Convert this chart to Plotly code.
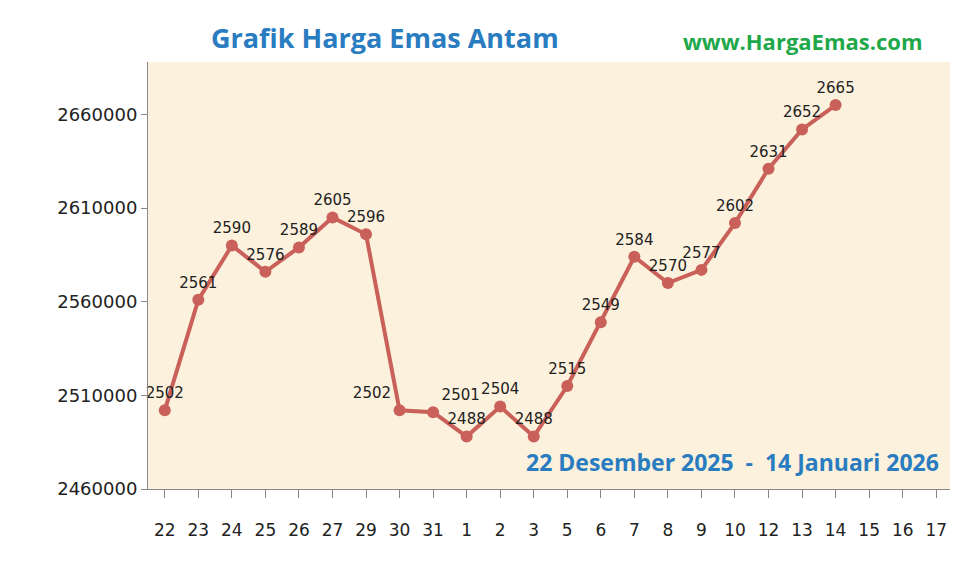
import plotly.graph_objects as go

categories = ["22","23","24","25","26","27","29","30","31","1","2","3","5","6","7","8","9","10","12","13","14","15","16","17"]
prices = [2502000,2561000,2590000,2576000,2589000,2605000,2596000,2502000,2501000,2488000,2504000,2488000,
          2515000,2549000,2584000,2570000,2577000,2602000,2631000,2652000,2665000]
labels = [str(v // 1000) for v in prices]
tickvals = [2460000, 2510000, 2560000, 2610000, 2660000]

positions = ["top center"] * len(prices)
positions[7] = "top left"
positions[8] = "top right"

fig = go.Figure(go.Scatter(
    x=categories[:len(prices)], y=prices, mode="lines+markers+text",
    text=labels, textposition=positions,
    textfont=dict(family="DejaVu Sans", size=15, color="#222"),
    line=dict(color="#c9615a", width=4),
    marker=dict(color="#c9615a", size=12),
    cliponaxis=False))

fig.update_layout(
    width=958, height=566, margin=dict(l=140, r=13, t=54, b=85, autoexpand=False),
    paper_bgcolor="white", plot_bgcolor="#fcf1dc", showlegend=False,
    xaxis=dict(type="category", categoryorder="array", categoryarray=categories,
               range=[-0.5, len(categories)-0.5], tickfont=dict(family="DejaVu Sans", size=17, color="#222"),
               ticklabelstandoff=18,
               showgrid=False, showline=True, linecolor="#888", ticks="outside", ticklen=8, tickcolor="#888"),
    yaxis=dict(range=[2460000, 2688000], tickvals=tickvals, tickformat="d",
               tickfont=dict(family="DejaVu Sans", size=18, color="#222"),
               showgrid=False, showline=True, linecolor="#888", ticks="outside", ticklen=6, tickcolor="#888"),
    annotations=[
        dict(text="<b>Grafik Harga Emas Antam</b>", xref="paper", yref="paper", x=0.295, y=1.01,
             xanchor="center", yanchor="bottom", showarrow=False,
             font=dict(family="Open Sans", size=27, color="#2a7cc0")),
        dict(text="<b>www.HargaEmas.com</b>", xref="paper", yref="paper", x=0.965, y=1.01,
             xanchor="right", yanchor="bottom", showarrow=False,
             font=dict(family="Open Sans", size=22, color="#1fa84a")),
        dict(text="<b>22 Desember 2025  -  14 Januari 2026</b>", xref="paper", yref="paper", x=0.985, y=0.02,
             xanchor="right", yanchor="bottom", showarrow=False,
             font=dict(family="Open Sans", size=23, color="#2a7cc0")),
    ],
)
fig.write_html("out.html")
